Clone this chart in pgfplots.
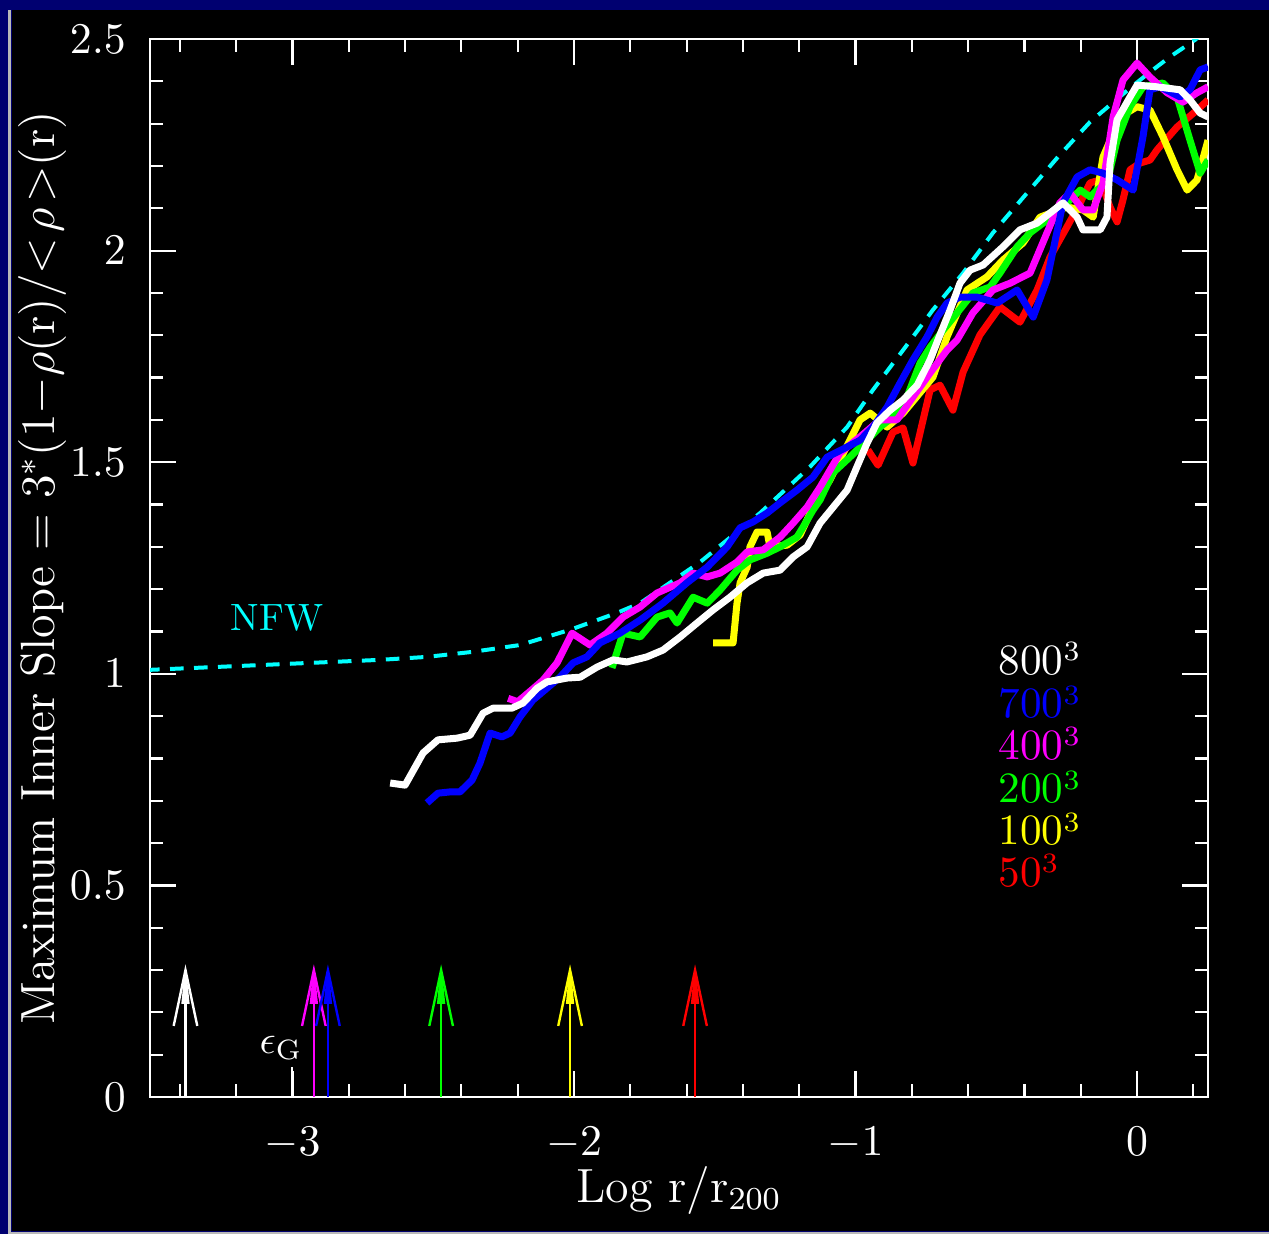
\documentclass[border=0pt]{standalone}
\usepackage{pgfplots}
\pgfplotsset{compat=1.18}
\definecolor{navy}{RGB}{0,0,112}
\definecolor{cB}{RGB}{0,0,255}
\definecolor{cM}{RGB}{255,0,255}
\definecolor{cG}{RGB}{0,255,0}
\definecolor{cY}{RGB}{255,255,0}
\definecolor{cR}{RGB}{255,0,0}
\definecolor{cC}{RGB}{0,255,255}
\newcommand{\cube}{\raisebox{0.32em}{\fontsize{7}{8}\selectfont 3}}
\begin{document}
\begin{tikzpicture}
\useasboundingbox (-37.5pt,-34.25pt) rectangle (279.75pt,274.25pt);
\fill[navy] (-37.5pt,-34.25pt) rectangle (279.75pt,274.25pt);
\fill[black] (-34.5pt,-33.5pt) rectangle (279.75pt,271.75pt);
\draw[gray!55, line width=0.75pt] (-35.2pt,-34.25pt) -- (-35.2pt,271.75pt);
\draw[gray!55, line width=0.5pt] (-35.5pt,-33.9pt) -- (279.75pt,-33.9pt);
\begin{axis}[
  at={(0pt,0pt)}, anchor=south west,
  scale only axis, width=264.5pt, height=264.5pt,
  xmin=-3.506, xmax=0.252, ymin=0, ymax=2.5,
  axis line style={white, line width=0.55pt},
  every tick/.style={white, line width=0.55pt},
  tick align=inside,
  major tick length=6.5pt, minor tick length=3.2pt,
  xtick={-3,-2,-1,0},
  minor xtick={-3.4,-3.2,-2.8,-2.6,-2.4,-2.2,-1.8,-1.6,-1.4,-1.2,-0.8,-0.6,-0.4,-0.2,0.2},
  ytick={0,0.5,1,1.5,2,2.5},
  minor ytick={0.1,0.2,0.3,0.4,0.6,0.7,0.8,0.9,1.1,1.2,1.3,1.4,1.6,1.7,1.8,1.9,2.1,2.2,2.3,2.4},
  ticklabel style={text=white, font=\fontsize{11.3}{13}\selectfont},
  xticklabel shift=4pt,
  yticklabel shift=2.5pt,
  xlabel={Log r/r$_{\mathrm{200}}$},
  ylabel={Maximum Inner Slope = 3$^*$(1$-\rho$(r)/$<\!\rho\!>$(r)},
  label style={text=white, font=\fontsize{12}{14}\selectfont},
  xlabel style={at={(axis description cs:0.5,-0.088)}, anchor=center},
  ylabel style={at={(axis description cs:-0.102,0.5)}, anchor=center},
  clip=true,
]
% NFW
\addplot[cC, line width=1pt, dash pattern=on 3.4pt off 2.6pt] coordinates {
(-3.52,1.009) (-2.689,1.033) (-2.522,1.040) (-2.359,1.052) (-2.192,1.068) (-2.014,1.104)
(-1.847,1.144) (-1.765,1.167) (-1.552,1.264) (-1.339,1.380) (-1.162,1.489) (-1.030,1.583)
(-0.938,1.671) (-0.831,1.765) (-0.725,1.860) (-0.618,1.947) (-0.512,2.042) (-0.391,2.136)
(-0.284,2.219) (-0.167,2.304) (-0.096,2.344) (-0.025,2.384) (0.046,2.422) (0.117,2.458)
(0.206,2.498) (0.26,2.53)};
% 50^3 red
\addplot[cR, line width=1.75pt, line join=round] coordinates {
(-0.956,1.529) (-0.920,1.493) (-0.867,1.571) (-0.831,1.581) (-0.796,1.498) (-0.735,1.671)
(-0.700,1.682) (-0.654,1.623) (-0.618,1.713) (-0.558,1.801) (-0.487,1.867) (-0.416,1.831)
(-0.355,1.907) (-0.309,1.985) (-0.249,2.056) (-0.202,2.113) (-0.167,2.160) (-0.131,2.167)
(-0.096,2.103) (-0.071,2.068) (-0.050,2.120) (-0.025,2.191) (0.011,2.207) (0.046,2.214)
(0.071,2.238) (0.142,2.292) (0.213,2.332) (0.252,2.356)};
% 100^3 yellow
\addplot[cY, line width=1.75pt, line join=round] coordinates {
(-1.506,1.073) (-1.435,1.073) (-1.421,1.167) (-1.410,1.215) (-1.385,1.252) (-1.375,1.300)
(-1.350,1.335) (-1.314,1.335) (-1.304,1.300) (-1.243,1.304) (-1.197,1.328) (-1.151,1.394)
(-1.091,1.458) (-0.984,1.600) (-0.948,1.616) (-0.888,1.583) (-0.831,1.616) (-0.725,1.701)
(-0.675,1.796) (-0.604,1.907) (-0.533,1.938) (-0.476,1.978) (-0.405,2.018) (-0.345,2.079)
(-0.249,2.103) (-0.192,2.096) (-0.156,2.079) (-0.121,2.221) (-0.060,2.316) (0.000,2.340)
(0.046,2.332) (0.092,2.269) (0.142,2.191) (0.178,2.143) (0.213,2.167) (0.252,2.261)};
% 200^3 green
\addplot[cG, line width=1.75pt, line join=round] coordinates {
(-1.865,1.014) (-1.826,1.096) (-1.765,1.087) (-1.705,1.134) (-1.659,1.144) (-1.634,1.120)
(-1.577,1.181) (-1.527,1.167) (-1.481,1.198) (-1.421,1.245) (-1.375,1.269) (-1.314,1.285)
(-1.268,1.300) (-1.208,1.323) (-1.186,1.347) (-1.151,1.387) (-1.126,1.411) (-1.080,1.475)
(-1.020,1.512) (-0.959,1.552) (-0.913,1.583) (-0.867,1.607) (-0.817,1.654) (-0.771,1.734)
(-0.735,1.772) (-0.689,1.812) (-0.639,1.853) (-0.583,1.900) (-0.522,1.914) (-0.487,1.947)
(-0.426,2.009) (-0.380,2.042) (-0.320,2.072) (-0.249,2.113) (-0.202,2.143) (-0.167,2.127)
(-0.142,2.143) (-0.107,2.160) (-0.071,2.261) (-0.025,2.340) (0.021,2.387) (0.092,2.396)
(0.142,2.363) (0.188,2.261) (0.224,2.183) (0.252,2.214)};
% 400^3 magenta
\addplot[cM, line width=1.75pt, line join=round] coordinates {
(-2.234,0.942) (-2.200,0.934) (-2.150,0.962) (-2.110,0.985) (-2.060,1.026) (-2.007,1.096) (-1.943,1.068)
(-1.883,1.096) (-1.826,1.134) (-1.765,1.158) (-1.705,1.191) (-1.623,1.215) (-1.577,1.238)
(-1.527,1.229) (-1.481,1.238) (-1.421,1.264) (-1.385,1.288) (-1.328,1.293) (-1.268,1.323)
(-1.222,1.356) (-1.172,1.394) (-1.126,1.441) (-1.055,1.522) (-0.984,1.560) (-0.913,1.600)
(-0.853,1.600) (-0.796,1.654) (-0.735,1.711) (-0.675,1.765) (-0.639,1.789) (-0.583,1.853)
(-0.512,1.907) (-0.451,1.923) (-0.380,1.947) (-0.320,2.042) (-0.274,2.113) (-0.238,2.136)
(-0.192,2.096) (-0.156,2.096) (-0.121,2.160) (-0.085,2.316) (-0.050,2.403) (0.000,2.443)
(0.046,2.410) (0.107,2.373) (0.163,2.351) (0.213,2.373) (0.252,2.387)};
% 700^3 blue
\addplot[cB, line width=1.75pt, line join=round] coordinates {
(-2.522,0.695) (-2.483,0.718) (-2.440,0.721) (-2.405,0.721) (-2.362,0.749) (-2.334,0.789)
(-2.298,0.860) (-2.256,0.851) (-2.227,0.860) (-2.192,0.898) (-2.146,0.938) (-2.096,0.966)
(-2.050,0.992) (-2.003,1.026) (-1.954,1.040) (-1.908,1.073) (-1.837,1.096) (-1.765,1.127)
(-1.684,1.167) (-1.599,1.215) (-1.527,1.252) (-1.456,1.300) (-1.410,1.345) (-1.364,1.359)
(-1.314,1.380) (-1.268,1.404) (-1.208,1.434) (-1.151,1.465) (-1.101,1.512) (-1.030,1.536)
(-0.984,1.552) (-0.938,1.583) (-0.888,1.630) (-0.842,1.687) (-0.796,1.742) (-0.746,1.796)
(-0.710,1.843) (-0.675,1.876) (-0.629,1.890) (-0.568,1.890) (-0.497,1.876) (-0.426,1.907)
(-0.369,1.843) (-0.320,1.931) (-0.263,2.113) (-0.213,2.174) (-0.167,2.191) (-0.121,2.183)
(-0.071,2.167) (-0.014,2.143) (0.021,2.269) (0.046,2.380) (0.082,2.387) (0.153,2.363)
(0.188,2.380) (0.224,2.427) (0.252,2.434)};
% 800^3 white
\addplot[white, line width=1.75pt, line join=round] coordinates {
(-2.653,0.742) (-2.600,0.737) (-2.536,0.813) (-2.483,0.844) (-2.415,0.848) (-2.369,0.855)
(-2.323,0.907) (-2.287,0.919) (-2.220,0.919) (-2.181,0.931) (-2.131,0.966) (-2.096,0.981)
(-2.025,0.990) (-1.978,0.992) (-1.918,1.016) (-1.861,1.033) (-1.812,1.028) (-1.741,1.040)
(-1.684,1.056) (-1.623,1.087) (-1.563,1.120) (-1.506,1.151) (-1.446,1.181) (-1.385,1.215)
(-1.328,1.238) (-1.268,1.245) (-1.222,1.276) (-1.172,1.300) (-1.126,1.356) (-1.073,1.399)
(-1.030,1.434) (-0.995,1.489) (-0.959,1.545) (-0.924,1.593) (-0.877,1.623) (-0.831,1.647)
(-0.781,1.682) (-0.735,1.742) (-0.700,1.801) (-0.664,1.860) (-0.629,1.923) (-0.593,1.954)
(-0.547,1.966) (-0.476,2.009) (-0.416,2.049) (-0.355,2.065) (-0.263,2.113) (-0.213,2.079)
(-0.192,2.049) (-0.131,2.049) (-0.107,2.079) (-0.096,2.207) (-0.071,2.309) (-0.025,2.363)
(0.000,2.391) (0.071,2.387) (0.153,2.380) (0.188,2.356) (0.224,2.325) (0.252,2.316)};
% softening arrows
\addplot[white, line width=0.6pt] coordinates {(-3.38,0) (-3.38,0.30)};
\addplot[white, line width=0.6pt] coordinates {(-3.422,0.168) (-3.38,0.30) (-3.338,0.168)};
\addplot[white, fill=white, line width=0.4pt] coordinates {(-3.392,0.22) (-3.38,0.30) (-3.368,0.22)};
\addplot[cM, line width=0.6pt] coordinates {(-2.924,0) (-2.924,0.30)};
\addplot[cM, line width=0.6pt] coordinates {(-2.966,0.168) (-2.924,0.30) (-2.882,0.168)};
\addplot[cM, fill=cM, line width=0.4pt] coordinates {(-2.936,0.22) (-2.924,0.30) (-2.912,0.22)};
\addplot[cB, line width=0.6pt] coordinates {(-2.874,0) (-2.874,0.30)};
\addplot[cB, line width=0.6pt] coordinates {(-2.916,0.168) (-2.874,0.30) (-2.832,0.168)};
\addplot[cB, fill=cB, line width=0.4pt] coordinates {(-2.886,0.22) (-2.874,0.30) (-2.862,0.22)};
\addplot[cG, line width=0.6pt] coordinates {(-2.472,0) (-2.472,0.30)};
\addplot[cG, line width=0.6pt] coordinates {(-2.514,0.168) (-2.472,0.30) (-2.430,0.168)};
\addplot[cG, fill=cG, line width=0.4pt] coordinates {(-2.484,0.22) (-2.472,0.30) (-2.460,0.22)};
\addplot[cY, line width=0.6pt] coordinates {(-2.014,0) (-2.014,0.30)};
\addplot[cY, line width=0.6pt] coordinates {(-2.056,0.168) (-2.014,0.30) (-1.972,0.168)};
\addplot[cY, fill=cY, line width=0.4pt] coordinates {(-2.026,0.22) (-2.014,0.30) (-2.002,0.22)};
\addplot[cR, line width=0.6pt] coordinates {(-1.570,0) (-1.570,0.30)};
\addplot[cR, line width=0.6pt] coordinates {(-1.612,0.168) (-1.570,0.30) (-1.528,0.168)};
\addplot[cR, fill=cR, line width=0.4pt] coordinates {(-1.582,0.22) (-1.570,0.30) (-1.558,0.22)};
% epsilon_G marker
\addplot[white, line width=0.5pt] coordinates {(-3.0,0) (-3.0,0.07)};
\node[text=white, font=\fontsize{10}{12}\selectfont] at (axis cs:-3.04,0.115) {$\epsilon_{\mathrm{G}}$};
% labels
\node[text=cC, font=\fontsize{9.5}{11}\selectfont] at (axis cs:-3.055,1.132) {NFW};
\node[anchor=west, inner sep=0pt, text=white, font=\fontsize{10.8}{12}\selectfont] at (axis cs:-0.494,1.035) {800\cube};
\node[anchor=west, inner sep=0pt, text=cB, font=\fontsize{10.8}{12}\selectfont] at (axis cs:-0.494,0.933) {700\cube};
\node[anchor=west, inner sep=0pt, text=cM, font=\fontsize{10.8}{12}\selectfont] at (axis cs:-0.494,0.834) {400\cube};
\node[anchor=west, inner sep=0pt, text=cG, font=\fontsize{10.8}{12}\selectfont] at (axis cs:-0.494,0.732) {200\cube};
\node[anchor=west, inner sep=0pt, text=cY, font=\fontsize{10.8}{12}\selectfont] at (axis cs:-0.494,0.633) {100\cube};
\node[anchor=west, inner sep=0pt, text=cR, font=\fontsize{10.8}{12}\selectfont] at (axis cs:-0.494,0.534) {50\cube};
\end{axis}
\end{tikzpicture}
\end{document}
